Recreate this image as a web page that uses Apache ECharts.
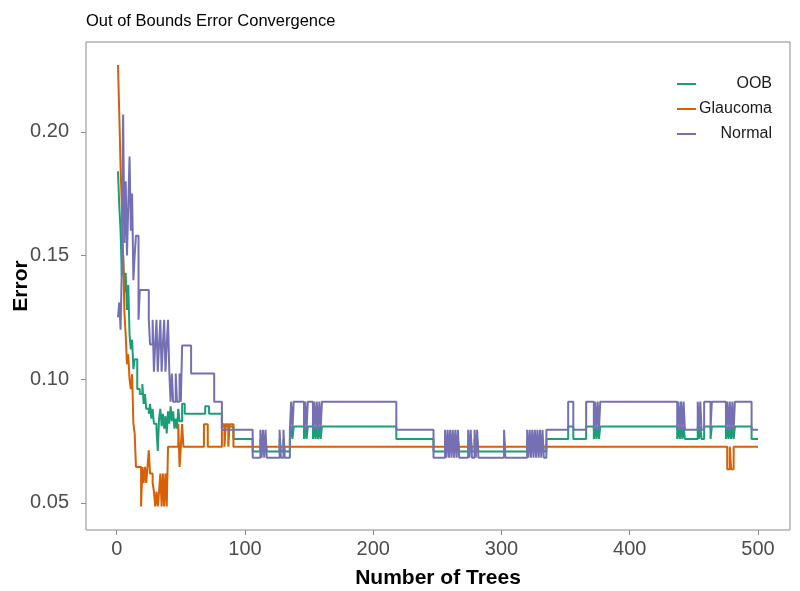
<!DOCTYPE html>
<html>
<head>
<meta charset="utf-8">
<title>Out of Bounds Error Convergence</title>
<script src="https://cdn.jsdelivr.net/npm/echarts@6/dist/echarts.min.js"></script>
<style>
  html, body { margin: 0; padding: 0; background: #fff; }
  #chart { width: 800px; height: 591px; }
</style>
</head>
<body>
<div id="chart"></div>
<script>
// series names + colours (Dark2)
var seriesNames = ['OOB', 'Glaucoma', 'Normal'];
var seriesColors = ['#1b9e77', '#d95f02', '#7570b3'];

var xTicks = [0, 100, 200, 300, 400, 500];
var yTicks = [0.05, 0.10, 0.15, 0.20];

// error rate as change points: [tree, error] (value holds until next point)
var oobSteps = [
  [1,0.184],[2,0.170],[3,0.160],[4,0.142],[5,0.150],[6,0.135],[7,0.143],[8,0.128],[9,0.138],
  [10,0.118],[11,0.112],[12,0.116],[13,0.104],[14,0.108],[16,0.096],[18,0.094],[20,0.098],
  [21,0.090],[22,0.094],[23,0.088],[25,0.086],[26,0.090],[27,0.084],[28,0.088],[29,0.082],
  [31,0.080],[32,0.071],[33,0.084],[34,0.088],[35,0.081],[36,0.086],[37,0.080],[38,0.085],
  [39,0.078],[40,0.087],[41,0.082],[42,0.089],[43,0.083],[44,0.087],[45,0.080],[46,0.084],
  [47,0.080],[48,0.088],[49,0.083],[51,0.090],[53,0.086],[69,0.089],[72,0.086],
  [82,0.0808],[91,0.0758],[106,0.0707],[112,0.0758],[113,0.0707],[114,0.0758],[115,0.0707],
  [116,0.0758],[117,0.0707],[127,0.0758],[128,0.0707],[130,0.0758],[131,0.0707],[135,0.0758],
  [136,0.0808],[137,0.0758],[138,0.0808],[146,0.0758],[147,0.0808],[148,0.0758],[149,0.0808],
  [153,0.0758],[154,0.0808],[155,0.0758],[156,0.0808],[157,0.0758],[158,0.0808],[159,0.0758],
  [160,0.0808],[218,0.0758],[247,0.0707],[256,0.0758],[257,0.0707],[258,0.0758],[259,0.0707],
  [260,0.0758],[261,0.0707],[262,0.0758],[263,0.0707],[264,0.0758],[265,0.0707],[266,0.0758],
  [267,0.0707],[274,0.0758],[275,0.0707],[276,0.0758],[277,0.0707],[279,0.0758],[280,0.0707],
  [281,0.0758],[282,0.0707],[302,0.0758],[303,0.0707],[320,0.0758],[321,0.0707],[322,0.0758],
  [323,0.0707],[324,0.0758],[325,0.0707],[326,0.0758],[327,0.0707],[328,0.0758],[329,0.0707],
  [330,0.0758],[331,0.0707],[332,0.0758],[333,0.0707],[335,0.0758],[352,0.0808],[356,0.0758],
  [366,0.0808],[372,0.0758],[373,0.0808],[374,0.0758],[375,0.0808],[376,0.0758],[377,0.0808],
  [437,0.0758],[438,0.0808],[439,0.0758],[440,0.0808],[441,0.0758],[442,0.0808],[443,0.0758],
  [453,0.0808],[454,0.0758],[455,0.0808],[456,0.0758],[458,0.0808],[463,0.0758],[464,0.0808],
  [475,0.0758],[476,0.0808],[477,0.0758],[478,0.0808],[479,0.0758],[480,0.0808],[481,0.0758],
  [482,0.0808],[495,0.0758],[500,0.0758]
];

var glaucomaSteps = [
  [1,0.227],[2,0.207],[3,0.186],[4,0.170],[5,0.150],[6,0.127],[7,0.118],[8,0.106],[9,0.110],
  [10,0.100],[11,0.096],[12,0.102],[13,0.082],[14,0.078],[15,0.0645],[19,0.0485],[20,0.0645],
  [21,0.058],[22,0.0645],[23,0.058],[24,0.0645],[25,0.0712],[26,0.0618],[28,0.058],[29,0.0545],
  [30,0.0485],[31,0.0545],[32,0.0485],[33,0.0545],[34,0.0618],[35,0.0485],[36,0.0618],
  [37,0.0485],[38,0.0618],[39,0.0485],[40,0.0727],[48,0.0818],[49,0.0645],[50,0.0727],
  [51,0.0818],[52,0.0727],[68,0.0818],[71,0.0727],[82,0.0818],[84,0.0727],[85,0.0818],
  [87,0.0727],[88,0.0818],[91,0.0727],[476,0.0636],[478,0.0727],[479,0.0636],[481,0.0727],
  [500,0.0727]
];

var normalSteps = [
  [1,0.125],[2,0.131],[3,0.120],[4,0.146],[5,0.207],[6,0.155],[7,0.180],[8,0.150],[9,0.170],
  [10,0.190],[11,0.160],[12,0.175],[13,0.140],[14,0.150],[15,0.158],[17,0.124],[18,0.136],
  [25,0.124],[26,0.114],[28,0.124],[29,0.103],[30,0.114],[31,0.124],[32,0.103],[33,0.114],
  [34,0.124],[35,0.103],[36,0.114],[37,0.124],[38,0.103],[39,0.114],[40,0.124],[41,0.103],
  [42,0.0909],[43,0.1023],[44,0.0909],[46,0.1023],[47,0.0909],[49,0.1023],[50,0.0909],
  [51,0.1136],[58,0.1023],[76,0.0909],[82,0.0795],[106,0.0682],[112,0.0795],[113,0.0682],
  [114,0.0795],[115,0.0682],[116,0.0795],[117,0.0682],[127,0.0795],[128,0.0682],[130,0.0795],
  [131,0.0682],[135,0.0795],[136,0.0909],[137,0.0795],[138,0.0909],[146,0.0795],[147,0.0909],
  [148,0.0795],[149,0.0909],[153,0.0795],[154,0.0909],[155,0.0795],[156,0.0909],[157,0.0795],
  [158,0.0909],[159,0.0795],[160,0.0909],[218,0.0795],[247,0.0682],[256,0.0795],[257,0.0682],
  [258,0.0795],[259,0.0682],[260,0.0795],[261,0.0682],[262,0.0795],[263,0.0682],[264,0.0795],
  [265,0.0682],[266,0.0795],[267,0.0682],[274,0.0795],[275,0.0682],[276,0.0795],[277,0.0682],
  [279,0.0795],[280,0.0682],[281,0.0795],[282,0.0682],[302,0.0795],[303,0.0682],[320,0.0795],
  [321,0.0682],[322,0.0795],[323,0.0682],[324,0.0795],[325,0.0682],[326,0.0795],[327,0.0682],
  [328,0.0795],[329,0.0682],[330,0.0795],[331,0.0682],[332,0.0795],[333,0.0682],[335,0.0795],
  [352,0.0909],[356,0.0795],[366,0.0909],[372,0.0795],[373,0.0909],[374,0.0795],[375,0.0909],
  [376,0.0795],[377,0.0909],[437,0.0795],[438,0.0909],[439,0.0795],[440,0.0909],[441,0.0795],
  [442,0.0909],[443,0.0795],[453,0.0909],[454,0.0795],[455,0.0909],[456,0.0795],[458,0.0909],
  [463,0.0795],[464,0.0909],[475,0.0795],[476,0.0909],[477,0.0795],[478,0.0909],[479,0.0795],
  [480,0.0909],[481,0.0795],[482,0.0909],[495,0.0795],[500,0.0795]
];

var allSteps = [oobSteps, glaucomaSteps, normalSteps];

var chart = echarts.init(document.getElementById('chart'), null, { renderer: 'canvas' });

var font = 'Liberation Sans, Arial, sans-serif';

chart.setOption({
  animation: false,
  textStyle: { fontFamily: font },
  title: {
    text: 'Out of Bounds Error Convergence',
    left: 81,
    top: 8,
    textStyle: { fontSize: 16.5, fontWeight: 'normal', color: '#000', fontFamily: font }
  },
  legend: {
    orient: 'vertical',
    left: 672,
    top: 71,
    itemWidth: 19,
    itemHeight: 2,
    itemGap: 9,
    icon: 'rect',
    data: seriesNames,
    formatter: function (name) { return '{n|' + name + '}'; },
    textStyle: {
      rich: { n: { width: 71, align: 'right', fontSize: 16, color: '#1a1a1a', fontFamily: font, lineHeight: 16 } }
    }
  },
  grid: {
    left: 86,
    right: 10,
    top: 42,
    bottom: 61,
    outerBoundsMode: 'none',
    containLabel: false,
    show: true,
    borderColor: '#8a8a8a',
    borderWidth: 1,
    backgroundColor: '#fff'
  },
  xAxis: {
    type: 'value',
    min: -23.95,
    max: 524.95,
    name: 'Number of Trees',
    nameLocation: 'middle',
    nameGap: 38,
    nameMoveOverlap: false,
    nameTextStyle: { fontSize: 21, fontWeight: 'bold', color: '#000', fontFamily: font },
    axisLine: { show: false, onZero: false },
    splitLine: { show: false },
    axisTick: { show: true, length: 5, lineStyle: { color: '#8a8a8a' }, customValues: xTicks },
    axisLabel: { fontSize: 20, color: '#4d4d4d', margin: 9, customValues: xTicks, fontFamily: font }
  },
  yAxis: {
    type: 'value',
    min: 0.039,
    max: 0.2363,
    name: 'Error',
    nameLocation: 'middle',
    nameGap: 54,
    nameRotate: 90,
    nameMoveOverlap: false,
    nameTextStyle: { fontSize: 21, fontWeight: 'bold', color: '#000', fontFamily: font },
    axisLine: { show: false, onZero: false },
    splitLine: { show: false },
    axisTick: { show: true, length: 5, lineStyle: { color: '#8a8a8a' }, customValues: yTicks },
    axisLabel: {
      fontSize: 20, color: '#4d4d4d', margin: 17, customValues: yTicks, fontFamily: font,
      formatter: function (v) { return v.toFixed(2); }
    }
  },
  series: seriesNames.map(function (name, i) {
    return {
      name: name,
      type: 'line',
      step: 'end',
      symbol: 'none',
      color: seriesColors[i],
      lineStyle: { width: 2, color: seriesColors[i] },
      data: allSteps[i]
    };
  })
});
</script>
</body>
</html>
